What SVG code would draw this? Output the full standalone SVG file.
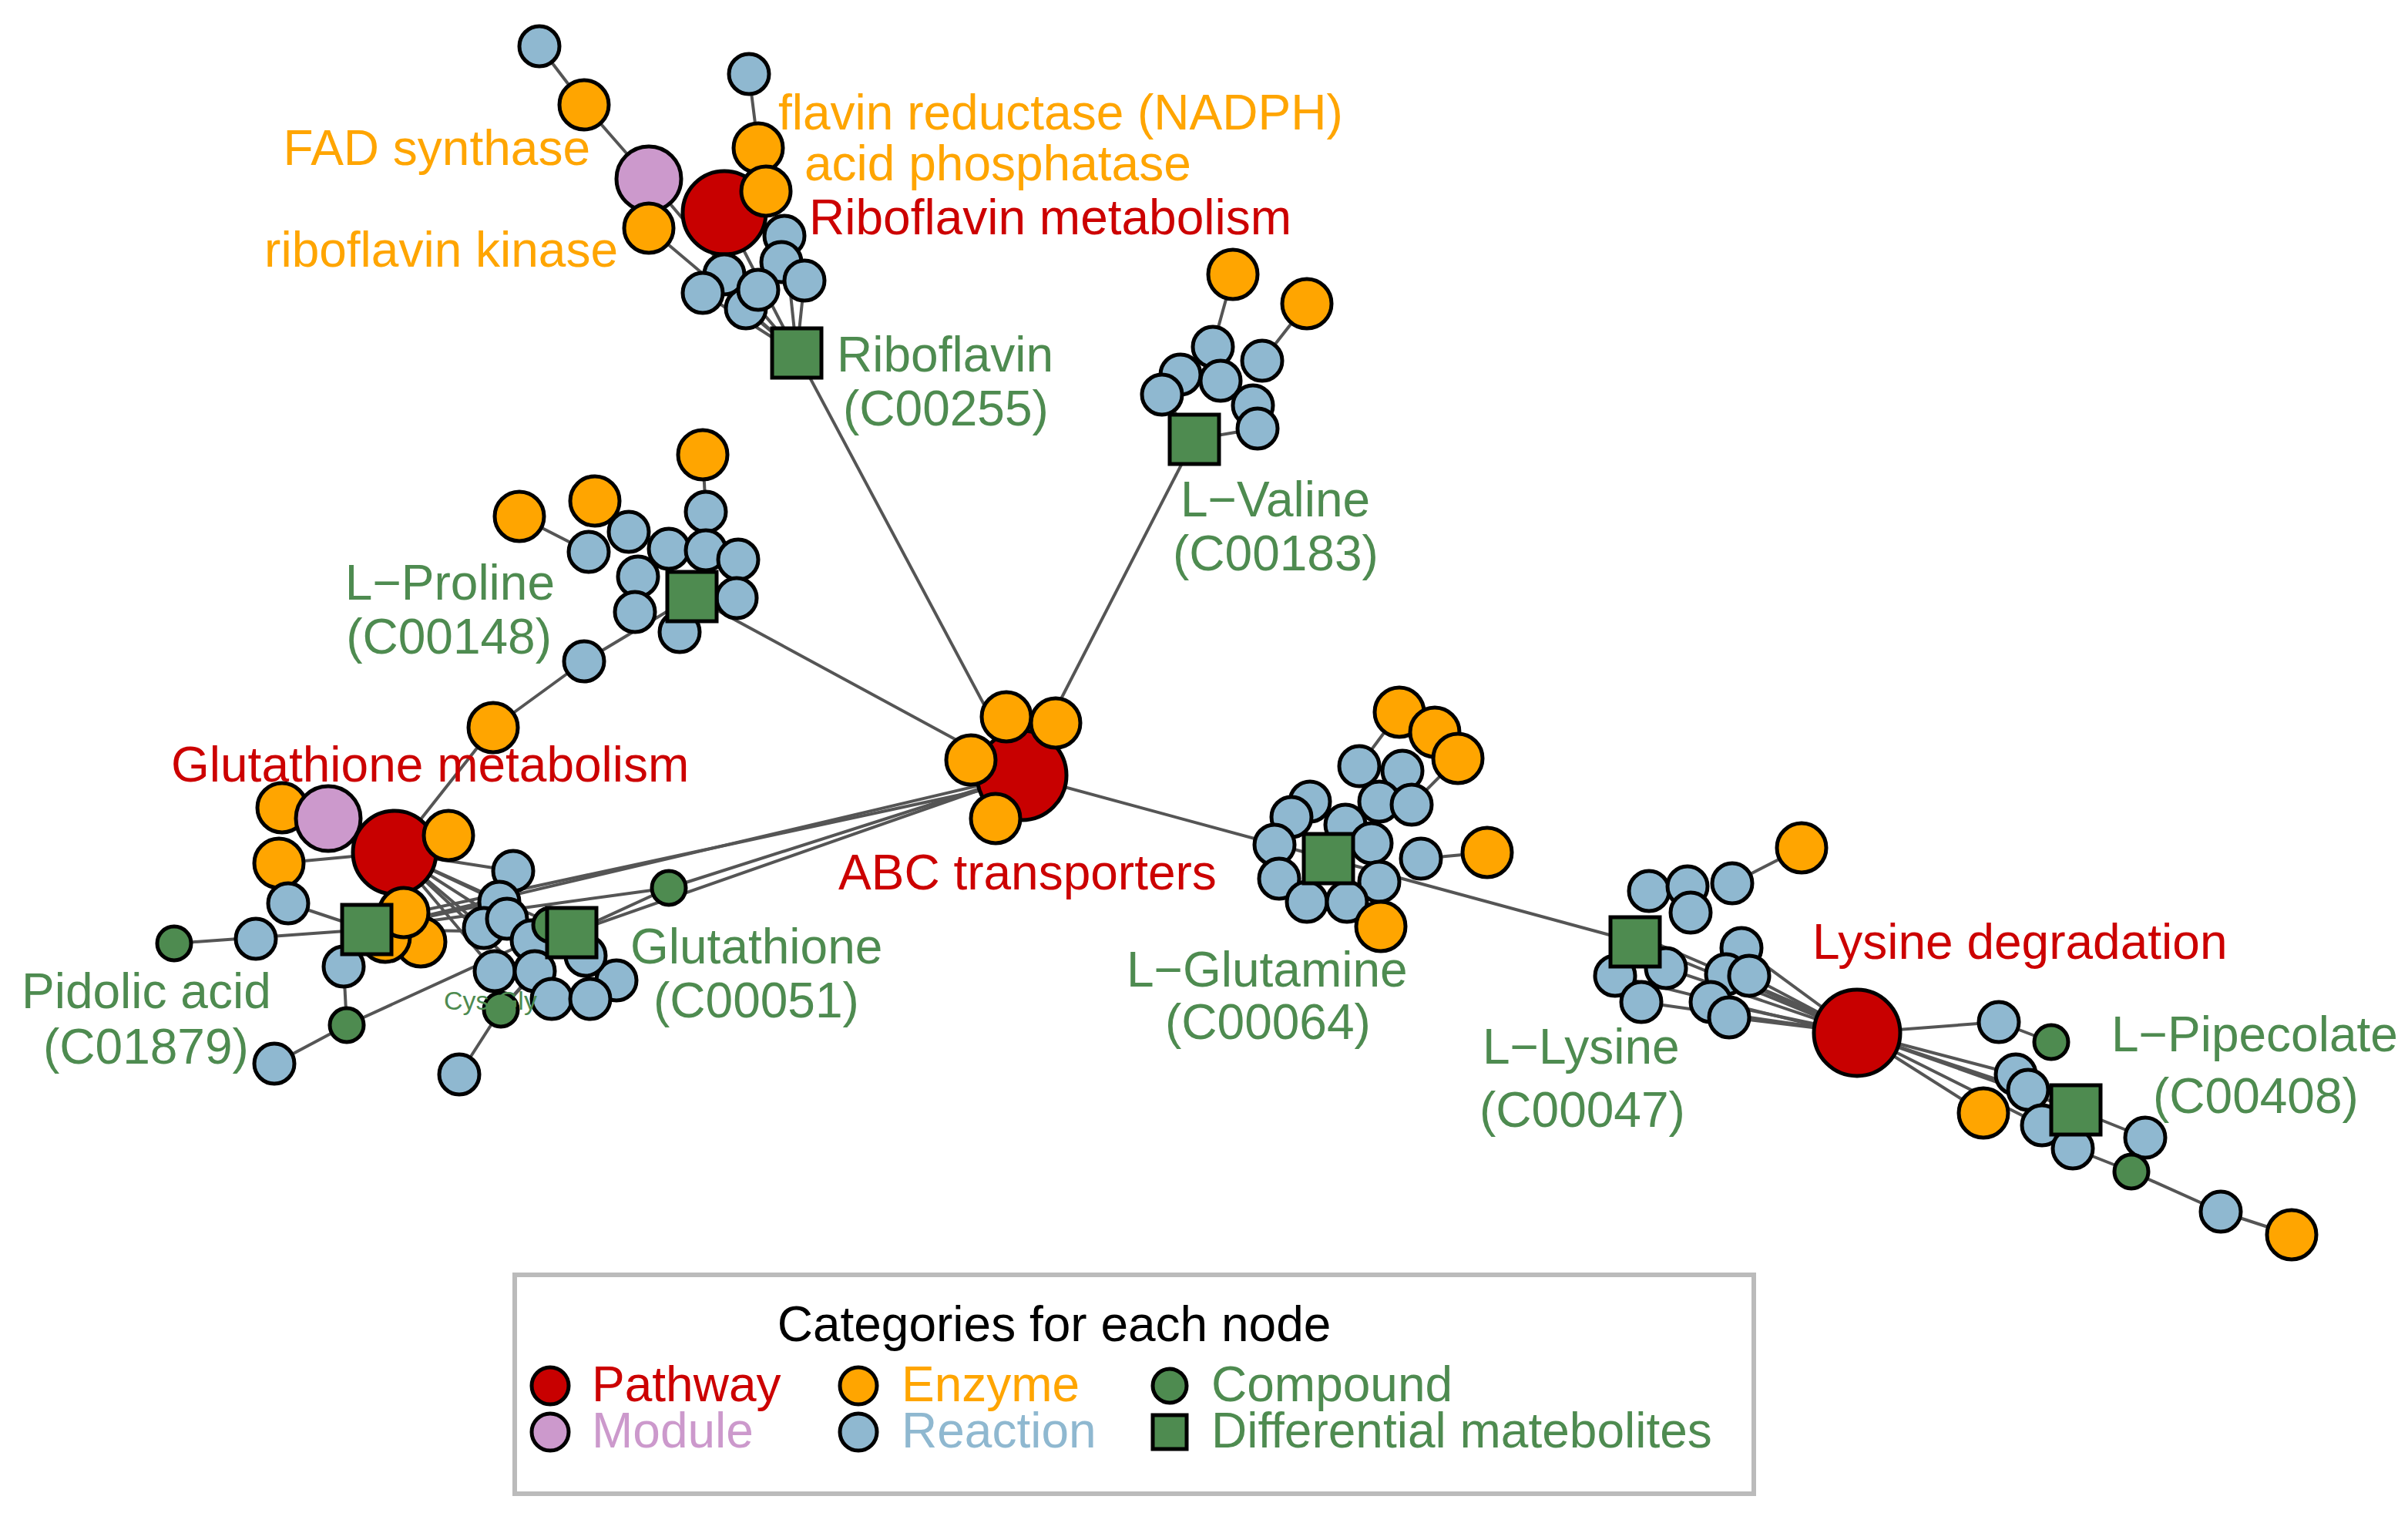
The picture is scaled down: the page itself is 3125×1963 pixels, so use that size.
<svg xmlns="http://www.w3.org/2000/svg" width="3125" height="1963" viewBox="0 0 3125 1963">
<style>
text{font-family:"Liberation Sans",Arial,sans-serif;font-size:32px}
.e line{stroke:#555;stroke-width:2}
.pw{fill:#c80000;stroke:#000;stroke-width:2.5}
.en{fill:#ffa500;stroke:#000;stroke-width:2.5}
.mo{fill:#cc99cc;stroke:#000;stroke-width:2.5}
.re{fill:#8fb8d0;stroke:#000;stroke-width:2.5}
.co{fill:#4e8b50;stroke:#000;stroke-width:2.5}
.sq{fill:#4e8b50;stroke:#000;stroke-width:2.5}
.tr{fill:#cc0000}.to{fill:#ffa500}.tg{fill:#4e8b50}.tp{fill:#cc99cc}.tb{fill:#8fb8d0}
</style>
<rect width="3125" height="1963" fill="#fff"/>
<g transform="scale(2)">
<g id="edges" class="e">
<line x1="663" y1="503" x2="517" y2="229"/><line x1="663" y1="503" x2="775" y2="285"/>
<line x1="663" y1="503" x2="449" y2="387"/><line x1="663" y1="503" x2="862" y2="557"/>
<line x1="862" y1="557" x2="1061" y2="611"/>
<line x1="663" y1="503" x2="238" y2="603"/><line x1="663" y1="503" x2="371" y2="605"/>
<line x1="663" y1="503" x2="434" y2="576"/><line x1="663" y1="507" x2="240" y2="598"/>
<line x1="434" y1="576" x2="371" y2="605"/><line x1="434" y1="576" x2="238" y2="603"/>
<line x1="350" y1="30" x2="379" y2="68"/><line x1="379" y1="68" x2="421" y2="116"/>
<line x1="421" y1="116" x2="517" y2="229"/><line x1="421" y1="148" x2="517" y2="229"/>
<line x1="486" y1="48" x2="492" y2="96"/><line x1="470" y1="138" x2="517" y2="229"/>
<line x1="509" y1="153" x2="517" y2="229"/><line x1="522" y1="182" x2="517" y2="229"/>
<line x1="456" y1="190" x2="517" y2="229"/><line x1="484" y1="200" x2="517" y2="229"/>
<line x1="800" y1="178" x2="787" y2="225"/><line x1="848" y1="197" x2="819" y2="234"/>
<line x1="754" y1="256" x2="775" y2="285"/><line x1="816" y1="278" x2="775" y2="285"/>
<line x1="456" y1="295" x2="458" y2="332"/><line x1="337" y1="335" x2="382" y2="358"/>
<line x1="386" y1="325" x2="408" y2="345"/><line x1="379" y1="429" x2="449" y2="387"/>
<line x1="379" y1="429" x2="320" y2="472"/><line x1="320" y1="472" x2="256" y2="553"/>
<line x1="256" y1="553" x2="333" y2="565"/><line x1="256" y1="553" x2="324" y2="585"/>
<line x1="256" y1="553" x2="345" y2="610"/><line x1="256" y1="553" x2="321" y2="630"/>
<line x1="256" y1="553" x2="358" y2="648"/><line x1="256" y1="553" x2="371" y2="605"/>
<line x1="256" y1="553" x2="314" y2="602"/><line x1="181" y1="560" x2="256" y2="553"/>
<line x1="113" y1="612" x2="238" y2="603"/><line x1="187" y1="586" x2="238" y2="603"/>
<line x1="238" y1="603" x2="371" y2="605"/><line x1="238" y1="603" x2="324" y2="585"/>
<line x1="223" y1="627" x2="225" y2="665"/><line x1="178" y1="690" x2="225" y2="665"/>
<line x1="225" y1="665" x2="345" y2="610"/><line x1="298" y1="697" x2="325" y2="655"/>
<line x1="325" y1="655" x2="371" y2="605"/><line x1="325" y1="655" x2="347" y2="630"/>
<line x1="908" y1="462" x2="882" y2="497"/><line x1="946" y1="492" x2="916" y2="522"/>
<line x1="965" y1="553" x2="922" y2="557"/><line x1="896" y1="601" x2="874" y2="585"/>
<line x1="1169" y1="550" x2="1124" y2="573"/>
<line x1="1061" y1="611" x2="1205" y2="670"/><line x1="1070" y1="610" x2="1205" y2="668"/>
<line x1="1081" y1="628" x2="1205" y2="670"/><line x1="1065" y1="650" x2="1205" y2="670"/>
<line x1="1110" y1="650" x2="1205" y2="670"/><line x1="1122" y1="660" x2="1205" y2="670"/>
<line x1="1130" y1="615" x2="1205" y2="670"/><line x1="1135" y1="633" x2="1205" y2="670"/>
<line x1="1120" y1="632" x2="1205" y2="670"/><line x1="1048" y1="633" x2="1205" y2="672"/>
<line x1="1205" y1="670" x2="1297" y2="663"/><line x1="1205" y1="670" x2="1308" y2="697"/>
<line x1="1205" y1="670" x2="1347" y2="720"/><line x1="1205" y1="670" x2="1287" y2="722"/>
<line x1="1205" y1="670" x2="1316" y2="707"/><line x1="1205" y1="670" x2="1325" y2="730"/>
<line x1="1297" y1="663" x2="1331" y2="676"/><line x1="1347" y1="720" x2="1392" y2="738"/>
<line x1="1345" y1="745" x2="1383" y2="760"/><line x1="1383" y1="760" x2="1441" y2="786"/>
<line x1="1441" y1="786" x2="1487" y2="801"/>
</g>
<g id="riboflavin-cluster">
<circle class="re" cx="350" cy="30" r="13"/><circle class="en" cx="379" cy="68" r="16"/>
<circle class="re" cx="486" cy="48" r="13"/><circle class="en" cx="492" cy="96" r="16"/>
<circle class="mo" cx="421" cy="116" r="21"/><circle class="pw" cx="470" cy="138" r="27"/>
<circle class="en" cx="497" cy="124" r="16"/><circle class="en" cx="421" cy="148" r="16"/>
<circle class="re" cx="509" cy="153" r="13"/><circle class="re" cx="507" cy="170" r="13"/>
<circle class="re" cx="470" cy="178" r="13"/><circle class="re" cx="484" cy="200" r="13"/>
<circle class="re" cx="456" cy="190" r="13"/><circle class="re" cx="492" cy="188" r="13"/>
<circle class="re" cx="522" cy="182" r="13"/>
<rect class="sq" x="501" y="213" width="32" height="32"/>
</g>
<g id="valine-cluster">
<circle class="en" cx="800" cy="178" r="16"/><circle class="en" cx="848" cy="197" r="16"/>
<circle class="re" cx="787" cy="225" r="13"/><circle class="re" cx="819" cy="234" r="13"/>
<circle class="re" cx="766" cy="243" r="13"/><circle class="re" cx="754" cy="256" r="13"/>
<circle class="re" cx="792" cy="247" r="13"/><circle class="re" cx="813" cy="263" r="13"/>
<circle class="re" cx="816" cy="278" r="13"/>
<rect class="sq" x="759" y="269" width="32" height="32"/>
</g>
<g id="proline-cluster">
<circle class="en" cx="456" cy="295" r="16"/><circle class="en" cx="337" cy="335" r="16"/>
<circle class="en" cx="386" cy="325" r="16"/>
<circle class="re" cx="458" cy="332" r="13"/><circle class="re" cx="408" cy="345" r="13"/>
<circle class="re" cx="434" cy="356" r="13"/><circle class="re" cx="382" cy="358" r="13"/>
<circle class="re" cx="458" cy="357" r="13"/><circle class="re" cx="479" cy="363" r="13"/>
<circle class="re" cx="414" cy="374" r="13"/><circle class="re" cx="478" cy="388" r="13"/>
<circle class="re" cx="412" cy="397" r="13"/><circle class="re" cx="441" cy="410" r="13"/>
<circle class="re" cx="379" cy="429" r="13"/>
<rect class="sq" x="433" y="371" width="32" height="32"/>
<circle class="en" cx="320" cy="472" r="16"/>
</g>
<g id="abc-transporters">
<circle class="pw" cx="663" cy="503" r="29"/>
<circle class="en" cx="653" cy="465" r="16"/><circle class="en" cx="685" cy="469" r="16"/>
<circle class="en" cx="630" cy="493" r="16"/><circle class="en" cx="646" cy="531" r="16"/>
</g>
<g id="glutathione-cluster">
<circle class="en" cx="183" cy="524" r="16"/><circle class="mo" cx="213" cy="531" r="21"/>
<circle class="en" cx="181" cy="560" r="16"/><circle class="pw" cx="256" cy="553" r="27"/>
<circle class="en" cx="291" cy="542" r="16"/>
<circle class="re" cx="333" cy="565" r="13"/><circle class="re" cx="187" cy="586" r="13"/>
<circle class="en" cx="273" cy="611" r="16"/><circle class="en" cx="250" cy="608" r="16"/>
<circle class="en" cx="262" cy="592" r="16"/>
<circle class="re" cx="166" cy="609" r="13"/><circle class="re" cx="223" cy="627" r="13"/>
<circle class="re" cx="324" cy="585" r="13"/><circle class="re" cx="314" cy="602" r="13"/>
<circle class="re" cx="329" cy="596" r="13"/><circle class="re" cx="345" cy="610" r="13"/>
<circle class="re" cx="400" cy="636" r="13"/><circle class="re" cx="380" cy="620" r="13"/>
<circle class="re" cx="321" cy="630" r="13"/><circle class="re" cx="347" cy="630" r="13"/>
<circle class="re" cx="358" cy="648" r="13"/><circle class="re" cx="383" cy="648" r="13"/>
<circle class="re" cx="178" cy="690" r="13"/><circle class="re" cx="298" cy="697" r="13"/>
<circle class="co" cx="113" cy="612" r="11"/><circle class="co" cx="225" cy="665" r="11"/>
<circle class="co" cx="325" cy="655" r="11"/><circle class="co" cx="434" cy="576" r="11"/>
<circle class="co" cx="357" cy="600" r="11"/>
<rect class="sq" x="222" y="587" width="32" height="32"/>
<rect class="sq" x="355" y="589" width="32" height="32"/>
<text x="288" y="655" class="tg" style="font-size:17px">Cys-Gly</text>
</g>
<g id="glutamine-cluster">
<circle class="en" cx="908" cy="462" r="16"/><circle class="en" cx="931" cy="475" r="16"/>
<circle class="en" cx="946" cy="492" r="16"/>
<circle class="re" cx="882" cy="497" r="13"/><circle class="re" cx="910" cy="500" r="13"/>
<circle class="re" cx="895" cy="520" r="13"/><circle class="re" cx="916" cy="522" r="13"/>
<circle class="re" cx="850" cy="520" r="13"/><circle class="re" cx="838" cy="530" r="13"/>
<circle class="re" cx="873" cy="535" r="13"/><circle class="re" cx="890" cy="547" r="13"/>
<circle class="re" cx="827" cy="548" r="13"/><circle class="re" cx="922" cy="557" r="13"/>
<circle class="re" cx="830" cy="570" r="13"/><circle class="re" cx="895" cy="572" r="13"/>
<circle class="re" cx="848" cy="585" r="13"/><circle class="re" cx="874" cy="585" r="13"/>
<circle class="en" cx="965" cy="553" r="16"/><circle class="en" cx="896" cy="601" r="16"/>
<rect class="sq" x="846" y="541" width="32" height="32"/>
</g>
<g id="lysine-cluster">
<circle class="en" cx="1169" cy="550" r="16"/>
<circle class="re" cx="1070" cy="578" r="13"/><circle class="re" cx="1095" cy="575" r="13"/>
<circle class="re" cx="1124" cy="573" r="13"/><circle class="re" cx="1097" cy="592" r="13"/>
<circle class="re" cx="1130" cy="615" r="13"/><circle class="re" cx="1081" cy="628" r="13"/>
<circle class="re" cx="1048" cy="633" r="13"/><circle class="re" cx="1065" cy="650" r="13"/>
<circle class="re" cx="1120" cy="632" r="13"/><circle class="re" cx="1135" cy="633" r="13"/>
<circle class="re" cx="1110" cy="650" r="13"/><circle class="re" cx="1122" cy="660" r="13"/>
<rect class="sq" x="1045" y="595" width="32" height="32"/>
</g>
<g id="lysine-degradation">
<circle class="pw" cx="1205" cy="670" r="28"/>
</g>
<g id="pipecolate-cluster">
<circle class="re" cx="1297" cy="663" r="13"/><circle class="co" cx="1331" cy="676" r="11"/>
<circle class="re" cx="1308" cy="697" r="13"/><circle class="re" cx="1316" cy="707" r="13"/>
<circle class="en" cx="1287" cy="722" r="16"/><circle class="re" cx="1325" cy="730" r="13"/>
<circle class="re" cx="1345" cy="745" r="13"/><circle class="re" cx="1392" cy="738" r="13"/>
<circle class="co" cx="1383" cy="760" r="11"/><circle class="re" cx="1441" cy="786" r="13"/>
<circle class="en" cx="1487" cy="801" r="16"/>
<rect class="sq" x="1331" y="704" width="32" height="32"/>
</g>
<g id="labels">
<text x="505" y="84" class="to">flavin reductase (NADPH)</text>
<text x="522" y="117" class="to">acid phosphatase</text>
<text x="525" y="152" class="tr">Riboflavin metabolism</text>
<text x="383" y="107" class="to" text-anchor="end">FAD synthase</text>
<text x="401" y="173" class="to" text-anchor="end">riboflavin kinase</text>
<text x="543" y="241" class="tg">Riboflavin</text>
<text x="547" y="276" class="tg">(C00255)</text>
<text x="766" y="335" class="tg">L−Valine</text>
<text x="761" y="370" class="tg">(C00183)</text>
<text x="360" y="389" class="tg" text-anchor="end">L−Proline</text>
<text x="358" y="424" class="tg" text-anchor="end">(C00148)</text>
<text x="111" y="507" class="tr">Glutathione metabolism</text>
<text x="544" y="577" class="tr">ABC transporters</text>
<text x="14" y="654" class="tg">Pidolic acid</text>
<text x="28" y="690" class="tg">(C01879)</text>
<text x="409" y="625" class="tg">Glutathione</text>
<text x="424" y="660" class="tg">(C00051)</text>
<text x="731" y="640" class="tg">L−Glutamine</text>
<text x="756" y="674" class="tg">(C00064)</text>
<text x="1176" y="622" class="tr">Lysine degradation</text>
<text x="962" y="690" class="tg">L−Lysine</text>
<text x="960" y="731" class="tg">(C00047)</text>
<text x="1370" y="682" class="tg">L−Pipecolate</text>
<text x="1397" y="722" class="tg">(C00408)</text>
</g>
<g id="legend">
<rect x="334" y="827" width="804" height="142" fill="#fff" stroke="#bbb" stroke-width="3"/>
<text x="684" y="870" text-anchor="middle" fill="#000">Categories for each node</text>
<circle class="pw" cx="357" cy="899" r="12"/><text x="384" y="909" class="tr">Pathway</text>
<circle class="en" cx="557" cy="899" r="12"/><text x="585" y="909" class="to">Enzyme</text>
<circle class="co" cx="759" cy="899" r="11"/><text x="786" y="909" class="tg">Compound</text>
<circle class="mo" cx="357" cy="929" r="12"/><text x="384" y="939" class="tp">Module</text>
<circle class="re" cx="557" cy="929" r="12"/><text x="585" y="939" class="tb">Reaction</text>
<rect class="sq" x="748" y="918" width="22" height="22"/><text x="786" y="939" class="tg">Differential matebolites</text>
</g>
</g>
</svg>
